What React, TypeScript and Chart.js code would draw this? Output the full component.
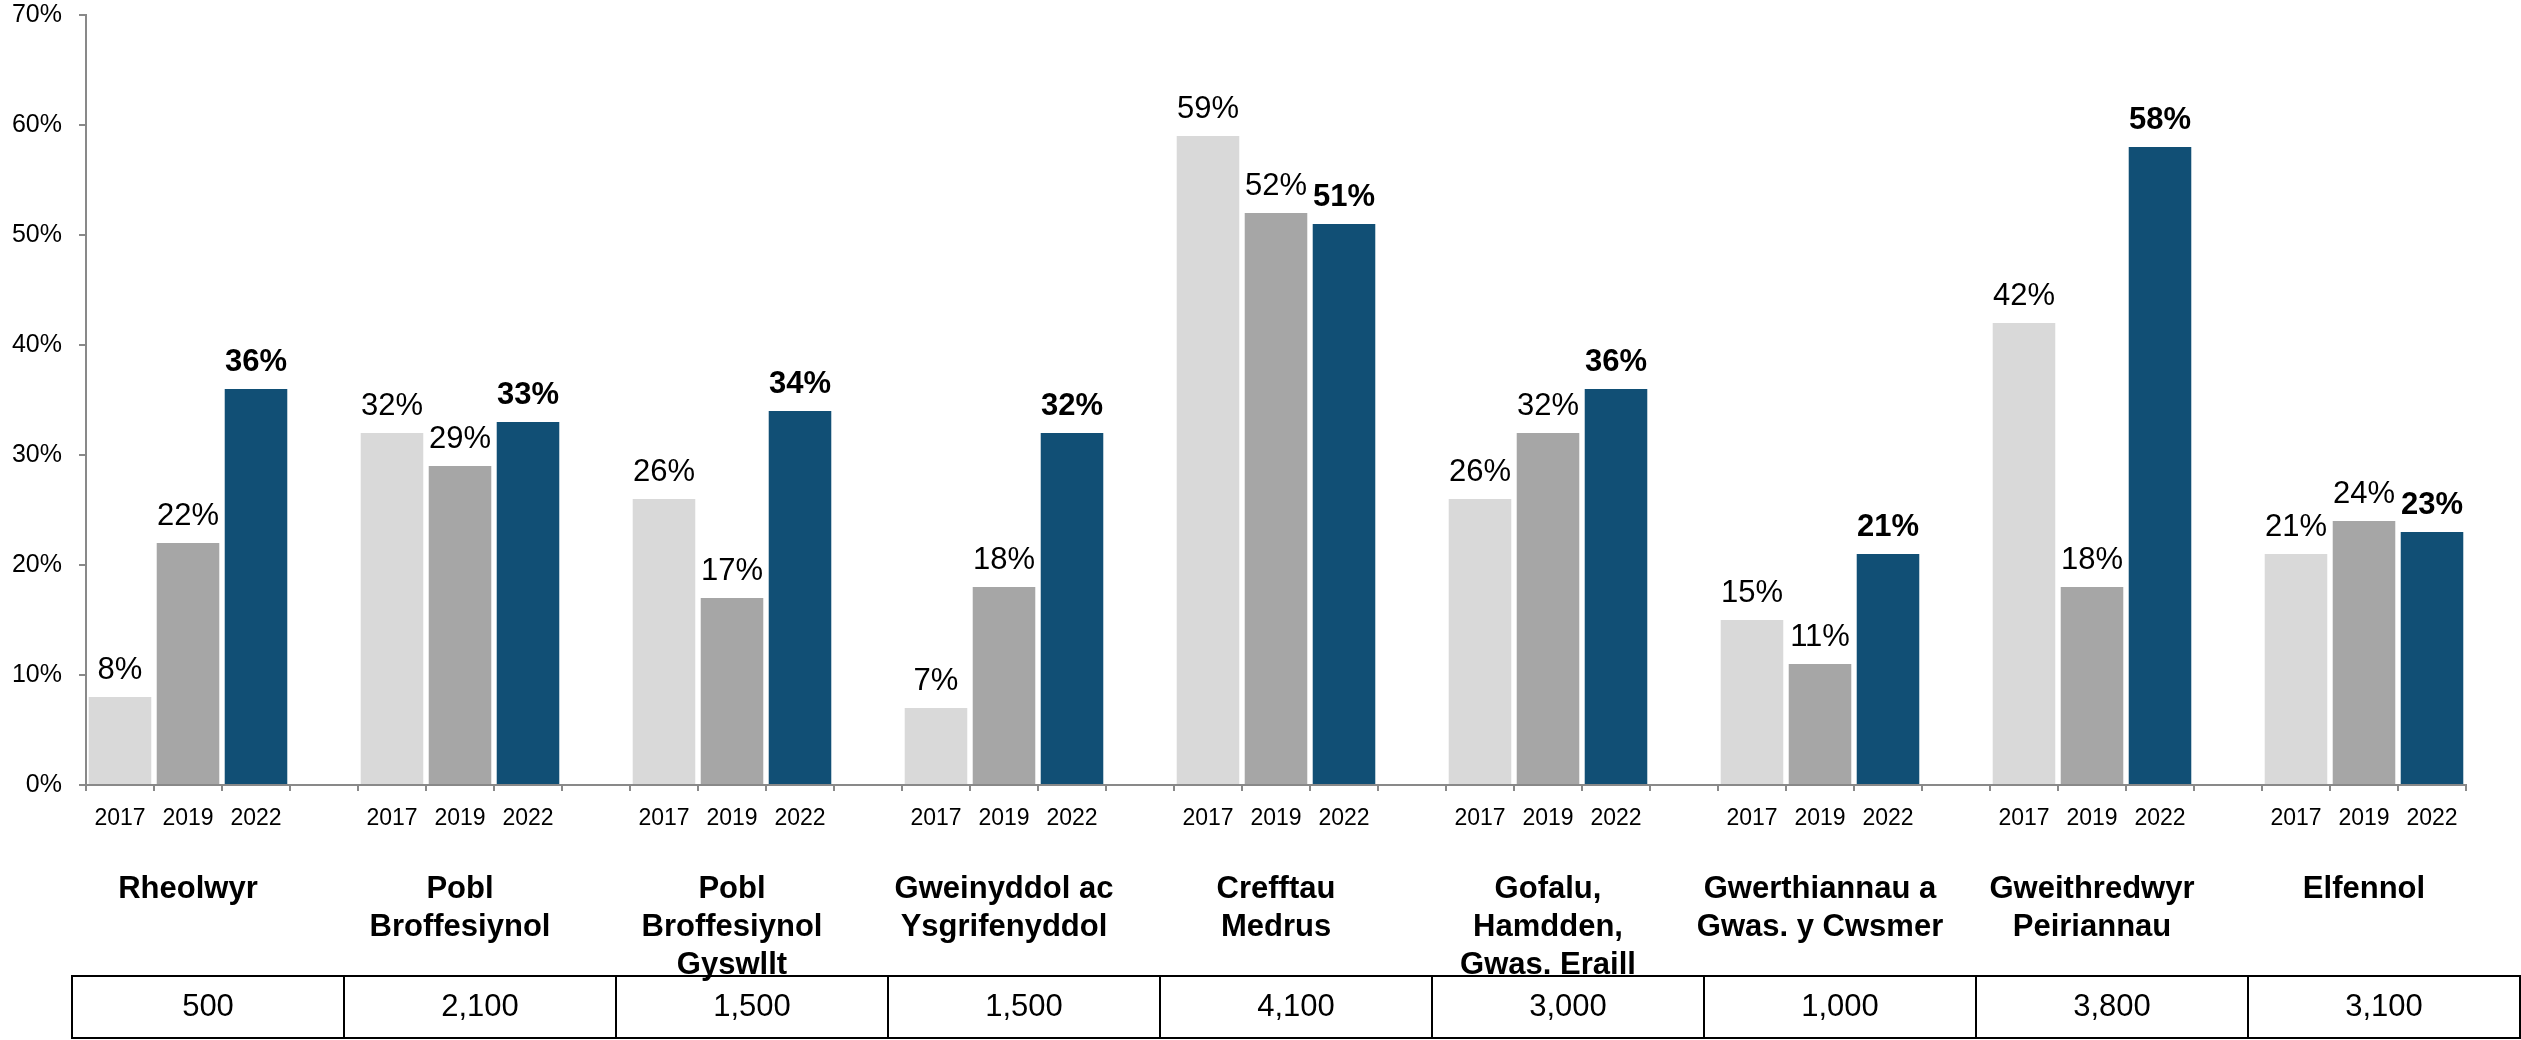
import { useEffect, useRef } from 'react';
import { Chart, registerables } from 'chart.js';

Chart.register(...registerables);

const FONT = "'Liberation Sans', Arial, sans-serif";

// Occupation groups (multi-line labels)
const groupLabels: string[][] = [
  ['Rheolwyr'],
  ['Pobl', 'Broffesiynol'],
  ['Pobl', 'Broffesiynol', 'Gyswllt'],
  ['Gweinyddol ac', 'Ysgrifenyddol'],
  ['Crefftau', 'Medrus'],
  ['Gofalu,', 'Hamdden,', 'Gwas. Eraill'],
  ['Gwerthiannau a', 'Gwas. y Cwsmer'],
  ['Gweithredwyr', 'Peiriannau'],
  ['Elfennol'],
];

const years = ['2017', '2019', '2022'];

const values2017 = [8, 32, 26, 7, 59, 26, 15, 42, 21];
const values2019 = [22, 29, 17, 18, 52, 32, 11, 18, 24];
const values2022 = [36, 33, 34, 32, 51, 36, 21, 58, 23];

const tableValues = ['500', '2,100', '1,500', '1,500', '4,100', '3,000', '1,000', '3,800', '3,100'];

const yTickValues = [0, 10, 20, 30, 40, 50, 60, 70];

const yearColors = ['#D9D9D9', '#A6A6A6', '#114F75'];

// Build the slot-based category axis: 3 bars + 1 gap per group
const slotLabels: string[] = [];
const slotData: (number | null)[] = [];
const slotColors: string[] = [];
groupLabels.forEach((_, g) => {
  const vals = [values2017[g], values2019[g], values2022[g]];
  years.forEach((yr, i) => {
    slotLabels.push(yr);
    slotData.push(vals[i]);
    slotColors.push(yearColors[i]);
  });
  if (g < groupLabels.length - 1) {
    slotLabels.push('');
    slotData.push(null);
    slotColors.push('rgba(0,0,0,0)');
  }
});

const extrasPlugin = {
  id: 'extras',
  afterDatasetsDraw(chart: any) {
    const ctx = chart.ctx;
    const meta = chart.getDatasetMeta(0);
    ctx.save();
    ctx.fillStyle = '#000';
    ctx.textAlign = 'center';
    ctx.textBaseline = 'alphabetic';
    meta.data.forEach((bar: any, i: number) => {
      const v = slotData[i];
      if (v == null) return;
      const bold = i % 4 === 2;
      ctx.font = `${bold ? 'bold ' : ''}31px ${FONT}`;
      ctx.fillText(`${v}%`, bar.x, bar.y - 18);
    });
    ctx.restore();
  },
  afterDraw(chart: any) {
    const ctx = chart.ctx;
    const xs = chart.scales.x;
    const slotW = xs.getPixelForValue(1) - xs.getPixelForValue(0);
    ctx.save();
    // group labels
    ctx.fillStyle = '#000';
    ctx.textAlign = 'center';
    ctx.textBaseline = 'alphabetic';
    ctx.font = `bold 31px ${FONT}`;
    groupLabels.forEach((lines, g) => {
      const cx = xs.getPixelForValue(4 * g + 1);
      lines.forEach((line, li) => {
        ctx.fillText(line, cx, 898 + li * 38);
      });
    });
    // table
    const top = 976;
    const bottom = 1038;
    ctx.strokeStyle = '#000';
    ctx.lineWidth = 2;
    ctx.font = `31px ${FONT}`;
    tableValues.forEach((val, g) => {
      const left = xs.getPixelForValue(4 * g) - slotW / 2 - 14;
      const w = slotW * 4;
      ctx.strokeRect(left, top, w, bottom - top);
      ctx.fillText(val, left + w / 2, 1016);
    });
    ctx.restore();
  },
};

export default function App() {
  const ref = useRef<HTMLCanvasElement>(null);
  useEffect(() => {
    if (!ref.current) return;
    const chart = new Chart(ref.current, {
      type: 'bar',
      data: {
        labels: slotLabels,
        datasets: [
          {
            data: slotData as any,
            backgroundColor: slotColors,
            barPercentage: 0.92,
            categoryPercentage: 1,
          },
        ],
      },
      options: {
        responsive: false,
        animation: false,
        devicePixelRatio: 1,
        layout: { padding: { left: 12, right: 55, top: 15, bottom: 207 } },
        plugins: {
          legend: { display: false },
          tooltip: { enabled: false },
          title: { display: false },
        },
        scales: {
          x: {
            border: { display: true, color: '#898989', width: 2 },
            grid: {
              display: true,
              drawOnChartArea: false,
              drawTicks: true,
              tickLength: 6,
              color: '#898989',
              lineWidth: 2,
              offset: true,
            },
            ticks: {
              color: '#000',
              font: { family: FONT, size: 23 },
              padding: 14,
              maxRotation: 0,
              autoSkip: false,
            },
            afterFit: (axis: any) => {
              axis.height = 48;
              axis.paddingLeft = 0;
              axis.paddingRight = 0;
            },
          },
          y: {
            min: 0,
            max: 70,
            border: { display: true, color: '#898989', width: 2 },
            grid: {
              display: true,
              drawOnChartArea: false,
              drawTicks: true,
              tickLength: 7,
              color: '#898989',
              lineWidth: 2,
            },
            afterBuildTicks: (axis: any) => {
              axis.ticks = yTickValues.map((v) => ({ value: v }));
            },
            ticks: {
              color: '#000',
              font: { family: FONT, size: 25 },
              padding: 17,
              callback: (v: any) => `${v}%`,
            },
            afterFit: (axis: any) => {
              axis.width = 74;
              axis.paddingTop = 0;
              axis.paddingBottom = 0;
            },
          },
        },
      },
      plugins: [extrasPlugin],
    });
    return () => chart.destroy();
  }, []);
  return (
    <div style={{ position: 'absolute', left: 0, top: 0, width: 2521, height: 1040, background: '#fff' }}>
      <canvas ref={ref} width={2521} height={1040} />
    </div>
  );
}
